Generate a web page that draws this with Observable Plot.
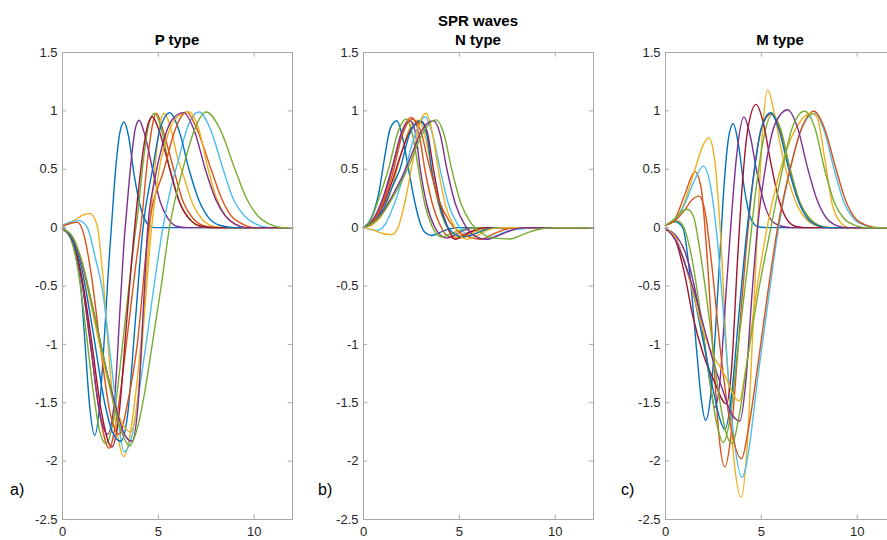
<!DOCTYPE html>
<html>
<head>
<meta charset="utf-8">
<script src="https://cdn.jsdelivr.net/npm/d3@7"></script>
<script src="https://cdn.jsdelivr.net/npm/@observablehq/plot@0.6"></script>
<style>
  html, body { margin: 0; padding: 0; background: #fff; overflow: hidden; }
  #chart { position: relative; width: 887px; height: 540px; overflow: hidden; font-family: "Liberation Sans", Arial, Helvetica, sans-serif; color: #262626; }
  .panel { position: absolute; top: 0; }
  .title { position: absolute; font-weight: bold; font-size: 15px; color: #000; white-space: nowrap; transform: translateX(-50%); }
  .tag { position: absolute; font-size: 16px; color: #000; }
</style>
</head>
<body>
<div id="chart"></div>
<script>
// ---------- tick labels ----------
const xTicks = [0, 5, 10];
const yTicks = [-2.5, -2, -1.5, -1, -0.5, 0, 0.5, 1, 1.5];

// MATLAB default colour order
const lineColors = ["#0072BD", "#D95319", "#EDB120", "#7E2F8E", "#77AC30", "#4DBEEE", "#A2142F"];

// ---------- P type waves: [time, amplitude] ----------
const pWave1 = [[0,0],[0.4,-0.08],[0.7,-0.25],[0.95,-0.5],[1.2,-1.05],[1.4,-1.5],[1.68,-1.78],[1.95,-1.5],[2.2,-0.9],[2.4,-0.35],[2.55,0],[2.8,0.55],[3.0,0.82],[3.21,0.905],[3.45,0.78],[3.73,0.46],[4.08,0.17],[4.4,0.04],[4.8,0],[12,0]];
const pWave2 = [[0,-0.01],[0.5,-0.12],[1.0,-0.45],[1.5,-1.05],[1.9,-1.55],[2.43,-1.89],[2.9,-1.55],[3.4,-0.9],[3.8,-0.35],[4.15,0.1],[4.45,0.6],[4.9,0.98],[5.3,0.8],[5.8,0.5],[6.3,0.22],[6.8,0.08],[7.3,0.02],[8,0],[12,0]];
const pWave3 = [[0,0.02],[0.6,0.06],[1.1,0.11],[1.45,0.12],[1.8,0.02],[2.1,-0.4],[2.5,-1.25],[2.9,-1.8],[3.21,-1.96],[3.55,-1.75],[3.9,-1.3],[4.25,-0.7],[4.55,0],[4.8,0.47],[5.05,0.85],[5.3,0.98],[5.6,0.88],[6.0,0.6],[6.3,0.45],[6.8,0.2],[7.3,0.07],[7.9,0.01],[8.5,0],[12,0]];
const pWave4 = [[0,-0.01],[0.5,-0.1],[1.0,-0.45],[1.5,-1.05],[1.9,-1.55],[2.35,-1.77],[2.7,-1.5],[3.0,-0.7],[3.2,-0.15],[3.35,0.15],[3.6,0.6],[3.8,0.85],[4.0,0.92],[4.25,0.82],[4.7,0.5],[5.1,0.22],[5.5,0.08],[6.0,0.01],[6.5,0],[12,0]];
const pWave5 = [[0,-0.01],[0.4,-0.08],[0.8,-0.35],[1.2,-0.85],[1.6,-1.4],[1.95,-1.75],[2.26,-1.85],[2.6,-1.7],[3.0,-1.2],[3.4,-0.6],[3.75,-0.1],[3.95,0.15],[4.2,0.55],[4.5,0.88],[4.8,0.98],[5.1,0.88],[5.6,0.5],[6.1,0.22],[6.6,0.08],[7.2,0.01],[8,0],[12,0]];
const pWave6 = [[0,0.02],[0.5,0.05],[0.87,0.06],[1.3,0.0],[1.7,-0.25],[2.1,-0.55],[2.5,-1.1],[2.9,-1.65],[3.21,-1.92],[3.6,-1.8],[4.0,-1.4],[4.4,-0.95],[4.8,-0.47],[5.24,0],[5.6,0.3],[6.0,0.55],[6.5,0.85],[7.13,0.99],[7.7,0.85],[8.38,0.5],[8.9,0.25],[9.5,0.1],[10.1,0.03],[10.8,0],[12,0]];
const pWave7 = [[0,-0.01],[0.5,-0.1],[1.0,-0.42],[1.5,-0.95],[2.0,-1.55],[2.57,-1.88],[2.95,-1.6],[3.3,-0.9],[3.6,-0.3],[3.95,0.3],[4.2,0.65],[4.45,0.88],[4.69,0.95],[5.0,0.85],[5.6,0.5],[6.1,0.22],[6.7,0.06],[7.3,0.01],[8,0],[12,0]];
const pWave8 = [[0,-0.01],[0.5,-0.1],[1.0,-0.35],[1.6,-0.9],[2.2,-1.5],[2.6,-1.75],[3.04,-1.83],[3.4,-1.6],[3.8,-0.8],[4.2,0],[4.7,0.5],[5.1,0.85],[5.6,0.985],[6.1,0.82],[6.6,0.5],[7.1,0.24],[7.6,0.09],[8.2,0.02],[9,0],[12,0]];
const pWave9 = [[0,0.01],[0.4,0.035],[0.79,0.045],[1.1,-0.05],[1.5,-0.4],[2.0,-1.05],[2.5,-1.6],[2.95,-1.77],[3.4,-1.5],[3.9,-1.0],[4.5,0],[5.3,0.5],[5.9,0.85],[6.47,0.99],[7.0,0.85],[7.75,0.5],[8.3,0.25],[8.8,0.1],[9.4,0.03],[10,0],[12,0]];
const pWave10 = [[0,-0.01],[0.5,-0.08],[1.0,-0.3],[1.6,-0.75],[2.2,-1.2],[2.8,-1.55],[3.2,-1.7],[3.56,-1.75],[3.9,-1.5],[4.2,-0.9],[4.65,0],[5.1,0.55],[5.5,0.8],[6.0,0.95],[6.6,0.99],[7.1,0.85],[7.6,0.5],[8.0,0.27],[8.5,0.1],[9.0,0.03],[9.6,0],[12,0]];
const pWave11 = [[0,-0.01],[0.5,-0.08],[1.0,-0.3],[1.6,-0.7],[2.2,-1.15],[2.8,-1.55],[3.2,-1.76],[3.62,-1.83],[3.95,-1.5],[4.2,-0.75],[4.45,0],[4.8,0.4],[5.2,0.7],[5.7,0.92],[6.31,0.985],[6.9,0.82],[7.45,0.5],[8.0,0.24],[8.5,0.1],[9.0,0.03],[9.6,0],[12,0]];
const pWave12 = [[0,-0.01],[0.5,-0.07],[1.0,-0.28],[1.6,-0.7],[2.2,-1.15],[2.8,-1.6],[3.2,-1.8],[3.51,-1.87],[3.9,-1.72],[4.3,-1.4],[4.7,-0.98],[5.15,-0.5],[5.58,0],[6.28,0.5],[6.8,0.8],[7.5,0.99],[8.2,0.85],[9.0,0.5],[9.6,0.25],[10.2,0.1],[10.8,0.03],[11.5,0],[12,0]];

// ---------- N type waves ----------
const nWave1 = [[0,0],[0.4,0.08],[0.8,0.3],[1.1,0.6],[1.4,0.85],[1.74,0.915],[2.0,0.8],[2.35,0.5],[2.7,0.2],[3.0,0.02],[3.2,-0.04],[3.57,-0.068],[4.0,-0.04],[4.5,-0.01],[5,0],[12,0]];
const nWave2 = [[0,0],[0.5,0.06],[1.0,0.22],[1.5,0.5],[2.0,0.82],[2.49,0.944],[2.9,0.8],[3.2,0.5],[3.6,0.2],[4.0,0.02],[4.3,-0.06],[4.7,-0.09],[5.2,-0.06],[5.8,-0.02],[6.5,0],[12,0]];
const nWave3 = [[0,0],[0.5,0.03],[1.0,0.12],[1.5,0.35],[2.0,0.65],[2.5,0.88],[2.85,0.92],[3.2,0.8],[3.55,0.5],[3.9,0.2],[4.3,0.02],[4.6,-0.06],[5.0,-0.09],[5.5,-0.06],[6.1,-0.02],[6.8,0],[12,0]];
const nWave4 = [[0,0],[0.5,0.07],[1.0,0.25],[1.5,0.52],[2.0,0.82],[2.43,0.915],[2.7,0.82],[2.96,0.5],[3.3,0.2],[3.7,0.01],[4.0,-0.06],[4.35,-0.09],[4.8,-0.06],[5.3,-0.02],[6,0],[12,0]];
const nWave5 = [[0,0],[0.4,0.07],[0.8,0.25],[1.3,0.5],[1.8,0.82],[2.23,0.93],[2.55,0.8],[2.87,0.5],[3.2,0.2],[3.55,0.02],[3.8,-0.05],[4.1,-0.08],[4.6,-0.05],[5.1,-0.02],[5.8,0],[12,0]];
const nWave6 = [[0,0],[0.35,-0.015],[0.7,-0.024],[1.1,0.02],[1.6,0.2],[2.1,0.45],[2.6,0.75],[3.22,0.95],[3.6,0.8],[4.0,0.5],[4.4,0.22],[4.9,0.03],[5.3,-0.05],[5.8,-0.09],[6.3,-0.1],[6.9,-0.07],[7.5,-0.03],[8.3,-0.01],[9,0],[12,0]];
const nWave7 = [[0,0],[0.5,0.05],[1.0,0.18],[1.5,0.4],[2.0,0.65],[2.5,0.85],[3.04,0.905],[3.35,0.8],[3.65,0.5],[4.0,0.2],[4.35,0.02],[4.5,-0.04],[4.78,-0.1],[5.2,-0.07],[5.7,-0.03],[6.3,0],[12,0]];
const nWave8 = [[0,0],[0.5,0.05],[1.0,0.15],[1.5,0.35],[1.9,0.5],[2.4,0.8],[2.96,0.915],[3.3,0.8],[3.55,0.5],[3.95,0.2],[4.3,0.03],[4.7,-0.05],[5.2,-0.08],[5.7,-0.06],[6.3,-0.02],[7,0],[12,0]];
const nWave9 = [[0,0],[0.5,0.05],[1.0,0.2],[1.5,0.45],[2.0,0.78],[2.55,0.93],[3.0,0.82],[3.4,0.55],[3.9,0.25],[4.5,0.05],[5.0,-0.04],[5.5,-0.08],[6.1,-0.1],[6.7,-0.06],[7.3,-0.02],[8,0],[12,0]];
const nWave10 = [[0,0],[0.5,-0.02],[1.0,-0.05],[1.48,-0.06],[1.8,0.0],[2.2,0.25],[2.6,0.6],[2.9,0.88],[3.27,0.98],[3.55,0.85],[3.9,0.5],[4.3,0.18],[4.7,0.02],[5.0,-0.06],[5.4,-0.1],[5.9,-0.07],[6.5,-0.02],[7.2,0],[12,0]];
const nWave11 = [[0,0],[0.5,0.04],[1.0,0.13],[1.5,0.27],[2.0,0.43],[2.5,0.62],[3.0,0.82],[3.65,0.915],[4.0,0.8],[4.35,0.5],[4.8,0.2],[5.3,0.02],[5.8,-0.07],[6.43,-0.1],[7.0,-0.07],[7.6,-0.03],[8.3,0],[12,0]];
const nWave12 = [[0,0],[0.5,0.04],[1.0,0.12],[1.5,0.25],[2.0,0.4],[2.5,0.58],[3.0,0.78],[3.79,0.923],[4.2,0.8],[4.6,0.5],[5.1,0.2],[5.6,0.04],[6.1,-0.04],[6.8,-0.09],[7.65,-0.097],[8.3,-0.06],[9,-0.02],[10,0],[12,0]];

// ---------- M type waves ----------
const mWave1 = [[0,0.02],[0.5,0.05],[0.9,0.0],[1.3,-0.45],[1.65,-1.1],[1.85,-1.45],[2.09,-1.65],[2.35,-1.45],[2.6,-0.9],[2.85,-0.2],[3.05,0.35],[3.3,0.78],[3.53,0.89],[3.8,0.72],[4.1,0.35],[4.4,0.1],[4.8,0.01],[5.3,0],[12,0]];
const mWave2 = [[0,0.02],[0.5,0.08],[1.0,0.28],[1.53,0.48],[1.85,0.35],[2.15,-0.2],[2.5,-1.1],[2.8,-1.8],[3.1,-2.05],[3.4,-1.8],[3.8,-1.0],[4.2,-0.2],[4.6,0.45],[5.0,0.85],[5.55,0.98],[6.0,0.82],[6.5,0.5],[7.0,0.22],[7.5,0.08],[8.0,0.02],[8.6,0],[12,0]];
const mWave3 = [[0,0.02],[0.5,0.07],[1.0,0.22],[1.5,0.48],[2.0,0.72],[2.26,0.77],[2.55,0.6],[2.85,0.0],[3.2,-1.1],[3.55,-1.95],[3.95,-2.31],[4.25,-1.9],[4.55,-0.9],[4.8,0.0],[5.05,0.8],[5.34,1.18],[5.65,1.0],[6.0,0.7],[6.4,0.42],[6.9,0.18],[7.4,0.06],[8.0,0.01],[8.5,0],[12,0]];
const mWave4 = [[0,-0.01],[0.5,-0.06],[1.0,-0.2],[1.5,-0.5],[2.0,-0.95],[2.3,-1.3],[2.57,-1.54],[2.85,-1.3],[3.1,-0.7],[3.4,0.0],[3.7,0.6],[4.09,0.947],[4.4,0.8],[4.8,0.45],[5.2,0.18],[5.6,0.05],[6.1,0.01],[6.6,0],[12,0]];
const mWave5 = [[0,0.02],[0.3,0.045],[0.61,0.057],[0.9,0.02],[1.3,-0.2],[1.8,-0.7],[2.3,-1.3],[2.7,-1.7],[3.01,-1.84],[3.35,-1.65],[3.8,-1.0],[4.3,-0.3],[4.7,0.3],[5.1,0.75],[5.57,0.97],[6.0,0.85],[6.5,0.5],[7.0,0.22],[7.5,0.08],[8.0,0.02],[8.6,0],[12,0]];
const mWave6 = [[0,0.02],[0.5,0.07],[1.0,0.2],[1.5,0.4],[1.97,0.527],[2.3,0.4],[2.7,-0.1],[3.1,-0.9],[3.5,-1.7],[4.0,-2.14],[4.35,-1.9],[4.8,-1.3],[5.3,-0.7],[5.9,0.0],[6.5,0.5],[7.1,0.85],[7.8,0.98],[8.3,0.82],[8.8,0.5],[9.3,0.22],[9.8,0.08],[10.4,0.02],[11,0],[12,0]];
const mWave7 = [[0,-0.01],[0.5,-0.1],[1.0,-0.4],[1.4,-0.74],[2.0,-1.1],[2.5,-1.3],[3.18,-1.51],[3.45,-1.2],[3.75,-0.3],[4.0,0.35],[4.3,0.85],[4.73,1.056],[5.1,0.9],[5.5,0.55],[5.9,0.25],[6.3,0.08],[6.8,0.01],[7.3,0],[12,0]];
const mWave8 = [[0,-0.01],[0.5,-0.08],[1.0,-0.3],[1.5,-0.6],[2.0,-1.0],[2.5,-1.4],[2.8,-1.62],[3.1,-1.73],[3.4,-1.5],[3.8,-0.8],[4.2,-0.1],[4.6,0.45],[5.0,0.85],[5.48,0.984],[5.9,0.85],[6.4,0.52],[6.9,0.24],[7.4,0.08],[7.9,0.02],[8.5,0],[12,0]];
const mWave9 = [[0,0.02],[0.5,0.06],[1.0,0.15],[1.4,0.24],[1.74,0.27],[2.05,0.15],[2.4,-0.3],[2.9,-1.1],[3.4,-1.7],[3.97,-1.98],[4.3,-1.75],[4.8,-1.2],[5.3,-0.6],[5.85,0.0],[6.5,0.5],[7.1,0.85],[7.75,0.997],[8.3,0.85],[8.9,0.5],[9.4,0.23],[9.9,0.08],[10.5,0.02],[11.1,0],[12,0]];
const mWave10 = [[0,-0.01],[0.5,-0.08],[1.0,-0.3],[1.5,-0.6],[2.0,-0.9],[2.5,-1.1],[2.87,-1.2],[3.2,-1.3],[3.5,-1.42],[3.84,-1.486],[4.2,-1.2],[4.7,-0.6],[5.3,0.0],[6.0,0.5],[6.8,0.85],[7.6,0.98],[7.9,0.95],[8.3,0.6],[8.7,0.2],[9.1,0.05],[9.6,0],[12,0]];
const mWave11 = [[0,-0.01],[0.5,-0.1],[1.0,-0.3],[1.5,-0.55],[2.0,-0.85],[2.5,-1.15],[3.0,-1.4],[3.4,-1.58],[3.88,-1.656],[4.2,-1.3],[4.5,-0.6],[4.8,0.0],[5.2,0.5],[5.7,0.88],[6.37,1.01],[6.9,0.85],[7.4,0.52],[7.9,0.24],[8.4,0.08],[8.9,0.02],[9.5,0],[12,0]];
const mWave12 = [[0,0.02],[0.5,0.08],[0.8,0.13],[1.13,0.157],[1.45,0.1],[1.8,-0.2],[2.3,-0.8],[2.8,-1.45],[3.2,-1.78],[3.48,-1.85],[3.8,-1.65],[4.3,-1.1],[4.9,-0.5],[5.5,0.0],[6.1,0.5],[6.6,0.85],[7.25,0.997],[7.8,0.85],[8.3,0.5],[8.8,0.22],[9.3,0.08],[9.9,0.02],[10.5,0],[12,0]];

const pWaves = [pWave1,pWave2,pWave3,pWave4,pWave5,pWave6,pWave7,pWave8,pWave9,pWave10,pWave11,pWave12];
const nWaves = [nWave1,nWave2,nWave3,nWave4,nWave5,nWave6,nWave7,nWave8,nWave9,nWave10,nWave11,nWave12];
const mWaves = [mWave1,mWave2,mWave3,mWave4,mWave5,mWave6,mWave7,mWave8,mWave9,mWave10,mWave11,mWave12];

const axisColor = "#a8a8a8";

function panel(waves, left, marginLeft) {
  const marks = [];
  waves.forEach((w, i) => {
    marks.push(Plot.line(w, {x: d => d[0], y: d => d[1], stroke: lineColors[i % lineColors.length], strokeWidth: 1.4, curve: "monotone-x"}));
  });
  marks.push(
    Plot.frame({stroke: axisColor}),
    Plot.ruleY(yTicks, {x1: 0, x2: 0.22, stroke: axisColor}),
    Plot.ruleY(yTicks, {x1: 11.78, x2: 12, stroke: axisColor}),
    Plot.ruleX(xTicks, {y1: -2.5, y2: -2.46, stroke: axisColor}),
    Plot.ruleX(xTicks, {y1: 1.46, y2: 1.5, stroke: axisColor}),
    Plot.axisY({ticks: yTicks, tickSize: 0, tickPadding: 5, tickFormat: d => String(d), label: null}),
    Plot.axisX({ticks: xTicks, tickSize: 0, tickPadding: 7, tickFormat: d => String(d), label: null})
  );
  const svg = Plot.plot({
    width: 300,
    height: 540,
    marginLeft: marginLeft,
    marginRight: 300 - marginLeft - 230,
    marginTop: 52,
    marginBottom: 21,
    x: {domain: [0, 12]},
    y: {domain: [-2.5, 1.5]},
    style: {fontFamily: "'Liberation Sans', Arial, Helvetica, sans-serif", fontSize: "13px", color: "#262626", background: "transparent", overflow: "visible"},
    marks
  });
  svg.classList.add("panel");
  svg.style.left = left + "px";
  return svg;
}

const chart = document.getElementById("chart");
chart.appendChild(panel(pWaves, 0, 62));
chart.appendChild(panel(nWaves, 300, 63));
chart.appendChild(panel(mWaves, 600, 65));

function addText(cls, text, x, y) {
  const d = document.createElement("div");
  d.className = cls;
  d.textContent = text;
  d.style.left = x + "px";
  d.style.top = y + "px";
  chart.appendChild(d);
}
addText("title", "P type", 177, 31);
addText("title", "SPR waves", 478, 12);
addText("title", "N type", 478, 31);
addText("title", "M type", 780, 31);
addText("tag", "a)", 10, 481);
addText("tag", "b)", 318, 481);
addText("tag", "c)", 621, 481);
</script>
</body>
</html>
